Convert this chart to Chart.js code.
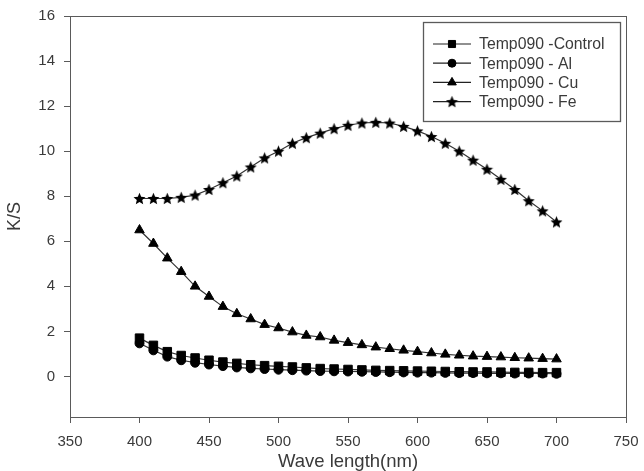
<!DOCTYPE html>
<html>
<head>
<meta charset="utf-8">
<title>K/S vs wave length</title>
<script src="https://cdn.jsdelivr.net/npm/chart.js@4/dist/chart.umd.min.js"></script>
<style>
  html, body { margin: 0; padding: 0; background: #fff; }
  #wrap { width: 644px; height: 471px; }
</style>
</head>
<body>
<div id="wrap"><canvas id="ksChart" width="644" height="471"></canvas></div>
<script>
// values
const wavelengths = [400, 410, 420, 430, 440, 450, 460, 470, 480, 490, 500,
    510, 520, 530, 540, 550, 560, 570, 580, 590, 600,
    610, 620, 630, 640, 650, 660, 670, 680, 690, 700];
const controlKS = [1.70, 1.38, 1.10, 0.93, 0.82, 0.72, 0.64, 0.58, 0.52, 0.48, 0.45,
    0.42, 0.38, 0.35, 0.33, 0.31, 0.29, 0.27, 0.26, 0.25, 0.24,
    0.23, 0.22, 0.21, 0.20, 0.20, 0.19, 0.18, 0.18, 0.17, 0.17];
const alKS = [1.47, 1.16, 0.88, 0.72, 0.61, 0.53, 0.46, 0.40, 0.36, 0.33, 0.30,
    0.28, 0.26, 0.24, 0.23, 0.22, 0.21, 0.20, 0.19, 0.18, 0.17,
    0.17, 0.16, 0.15, 0.15, 0.14, 0.14, 0.13, 0.13, 0.13, 0.12];
const cuKS = [6.50, 5.90, 5.25, 4.65, 4.00, 3.55, 3.10, 2.78, 2.55, 2.30, 2.15,
    1.97, 1.82, 1.75, 1.60, 1.50, 1.40, 1.30, 1.23, 1.16, 1.10,
    1.04, 0.98, 0.94, 0.90, 0.88, 0.86, 0.83, 0.81, 0.79, 0.77];
const feKS = [7.90, 7.90, 7.90, 7.95, 8.05, 8.30, 8.60, 8.90, 9.30, 9.70, 10.00,
    10.35, 10.60, 10.80, 11.00, 11.15, 11.25, 11.28, 11.25, 11.10, 10.90,
    10.65, 10.35, 10.00, 9.60, 9.20, 8.75, 8.30, 7.80, 7.35, 6.86];
const seriesNames = ['Temp090 -Control', 'Temp090 - Al', 'Temp090 - Cu', 'Temp090 - Fe'];
const xTickValues = [350, 400, 450, 500, 550, 600, 650, 700, 750];
const yTickValues = [0, 2, 4, 6, 8, 10, 12, 14, 16];

const FONT = "'Liberation Sans', Arial, sans-serif";
const AXIS_GREY = '#5a5a5a';
const TEXT_GREY = '#3a3a3a';

// filled five point star used as marker for Fe
function makeStar(size) {
    const c = document.createElement('canvas');
    c.width = size; c.height = size;
    const g = c.getContext('2d');
    const cx = size / 2, cy = size / 2 + 0.6;
    const outer = size / 2 - 0.2, inner = outer * 0.45;
    g.beginPath();
    for (let i = 0; i < 10; i++) {
        const r = i % 2 === 0 ? outer : inner;
        const a = -Math.PI / 2 + i * Math.PI / 5;
        const px = cx + r * Math.cos(a), py = cy + r * Math.sin(a);
        if (i === 0) g.moveTo(px, py); else g.lineTo(px, py);
    }
    g.closePath();
    g.fillStyle = '#000';
    g.fill();
    return c;
}
const starImg = makeStar(13);

function toPoints(ys) {
    return wavelengths.map((x, i) => ({ x: x, y: ys[i] }));
}

function series(label, ys, style, radius) {
    return {
        label: label,
        data: toPoints(ys),
        showLine: true,
        borderColor: '#333',
        borderWidth: 1.2,
        tension: 0,
        pointStyle: style,
        pointRadius: radius,
        pointHoverRadius: radius,
        pointBackgroundColor: '#000',
        pointBorderColor: '#000',
        pointBorderWidth: 1
    };
}

// frame around the plot area (top and right sides)
const framePlugin = {
    id: 'frame',
    beforeDatasetsDraw(chart) {
        const a = chart.chartArea, ctx = chart.ctx;
        ctx.save();
        ctx.strokeStyle = AXIS_GREY;
        ctx.lineWidth = 1;
        ctx.strokeRect(Math.round(a.left) + 0.5, Math.round(a.top) + 0.5,
            Math.round(a.right - a.left), Math.round(a.bottom - a.top));
        ctx.restore();
    }
};

// boxed legend, line + marker like the original
const boxLegend = {
    id: 'boxLegend',
    afterDraw(chart) {
        const ctx = chart.ctx;
        const bx = 423.5, by = 22.5, bw = 197, bh = 99;
        ctx.save();
        ctx.fillStyle = '#fff';
        ctx.fillRect(bx, by, bw, bh);
        ctx.strokeStyle = AXIS_GREY;
        ctx.lineWidth = 1.3;
        ctx.strokeRect(bx, by, bw, bh);
        chart.data.datasets.forEach((ds, i) => {
            const y = 44 + i * 19.2;
            ctx.strokeStyle = '#222';
            ctx.lineWidth = 1.2;
            ctx.beginPath();
            ctx.moveTo(433, y);
            ctx.lineTo(471, y);
            ctx.stroke();
            const r = ds.pointStyle === 'rect' ? 5 : (ds.pointStyle === 'triangle' ? 5 : 4);
            ctx.fillStyle = '#000';
            ctx.strokeStyle = '#000';
            ctx.lineWidth = 1;
            if (Chart.helpers && Chart.helpers.drawPoint) {
                Chart.helpers.drawPoint(ctx, {
                    pointStyle: ds.pointStyle, radius: r, rotation: 0, borderWidth: 1
                }, 452, y);
            }
            ctx.fillStyle = TEXT_GREY;
            ctx.font = '15.8px ' + FONT;
            ctx.textBaseline = 'middle';
            ctx.textAlign = 'left';
            ctx.fillText(ds.label, 479, y + 1);
        });
        ctx.restore();
    }
};

const ctx = document.getElementById('ksChart').getContext('2d');
const ksChart = new Chart(ctx, {
    type: 'scatter',
    data: {
        datasets: [
            series(seriesNames[0], controlKS, 'rect', 6),
            series(seriesNames[1], alKS, 'circle', 4.5),
            series(seriesNames[2], cuKS, 'triangle', 5.5),
            series(seriesNames[3], feKS, starImg, 6)
        ]
    },
    options: {
        responsive: false,
        animation: false,
        devicePixelRatio: 1,
        layout: { padding: { top: 16, right: 18, left: 0, bottom: 0 } },
        plugins: {
            legend: { display: false },
            tooltip: { enabled: false }
        },
        scales: {
            x: {
                type: 'linear',
                min: 350,
                max: 750,
                afterBuildTicks: (scale) => { scale.ticks = xTickValues.map(v => ({ value: v })); },
                afterFit: (scale) => {
                    scale.height = 54;
                    scale.paddingLeft = 0;
                    scale.paddingRight = 0;
                },
                grid: { drawOnChartArea: false, drawTicks: true, tickLength: 6, color: AXIS_GREY },
                border: { display: true, color: AXIS_GREY, width: 1 },
                ticks: { color: TEXT_GREY, font: { family: FONT, size: 15 }, padding: 10, maxRotation: 0 },
                title: {
                    display: true,
                    text: 'Wave length(nm)',
                    color: TEXT_GREY,
                    font: { family: FONT, size: 18.5, lineHeight: 1 },
                    padding: { top: 0, bottom: 0 }
                }
            },
            y: {
                type: 'linear',
                min: -1.8,
                max: 16,
                afterBuildTicks: (scale) => { scale.ticks = yTickValues.map(v => ({ value: v })); },
                afterFit: (scale) => {
                    scale.width = 70;
                    scale.paddingTop = 0;
                    scale.paddingBottom = 0;
                },
                grid: { drawOnChartArea: false, drawTicks: true, tickLength: 6, color: AXIS_GREY },
                border: { display: true, color: AXIS_GREY, width: 1 },
                ticks: { color: TEXT_GREY, font: { family: FONT, size: 15 }, padding: 9 },
                title: {
                    display: true,
                    text: 'K/S',
                    color: TEXT_GREY,
                    font: { family: FONT, size: 18, lineHeight: 1 },
                    padding: { top: 6, bottom: 0 }
                }
            }
        }
    },
    plugins: [framePlugin, boxLegend]
});
</script>
</body>
</html>
